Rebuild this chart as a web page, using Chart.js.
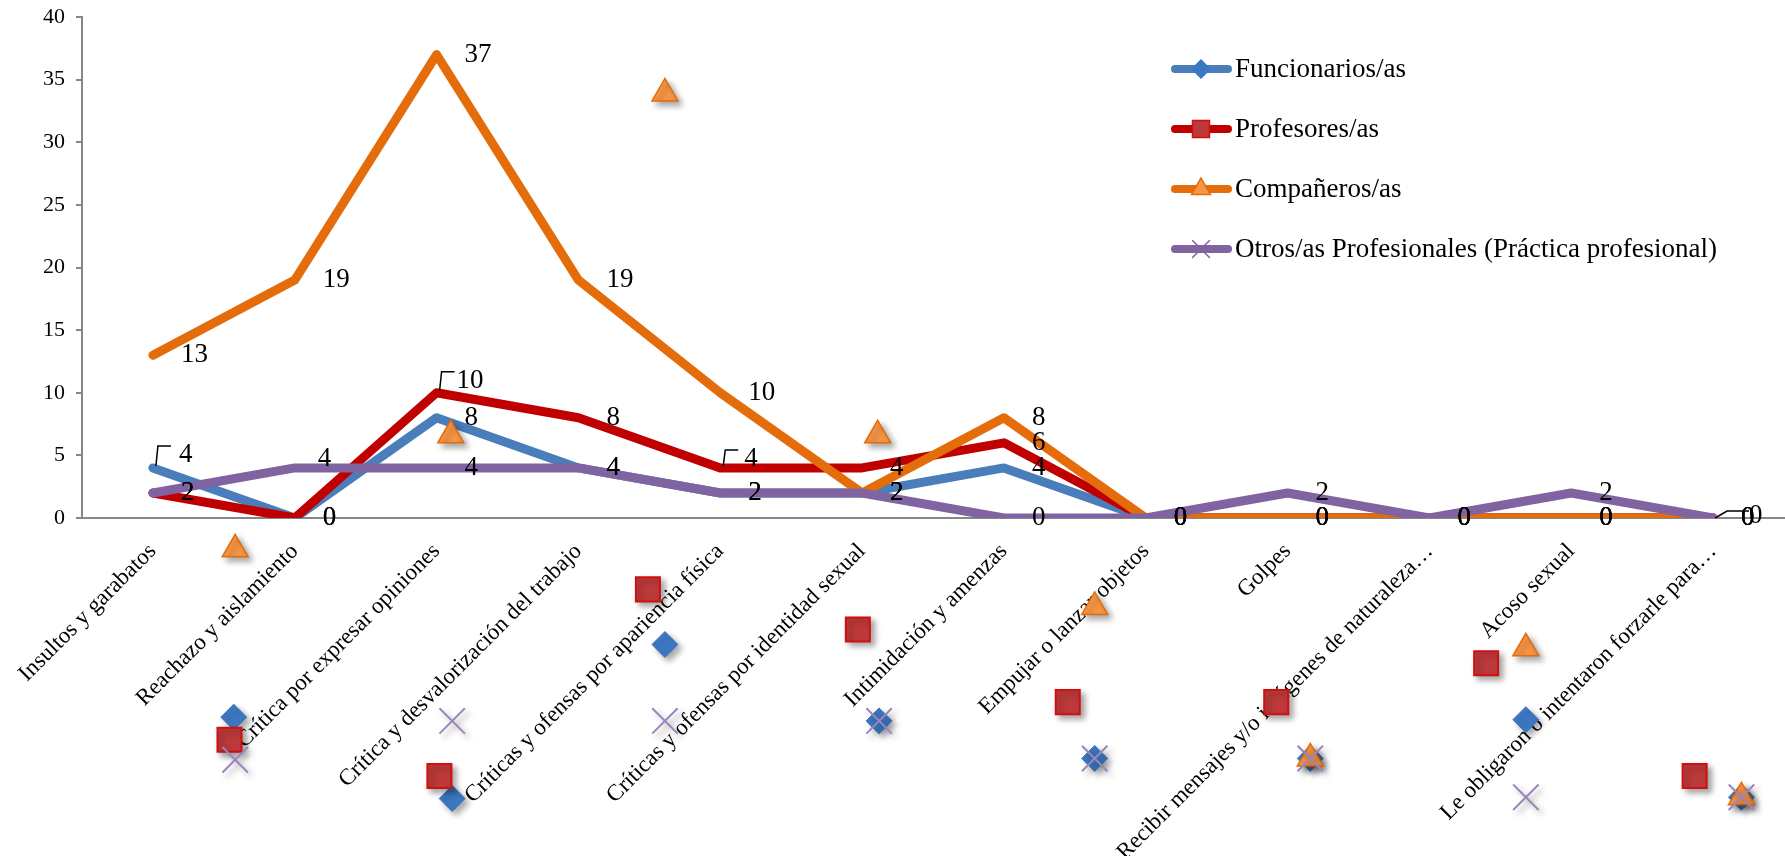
<!DOCTYPE html>
<html>
<head>
<meta charset="utf-8">
<script src="https://cdn.jsdelivr.net/npm/chart.js@4.4.0/dist/chart.umd.min.js"></script>
<style>
  html, body { margin: 0; padding: 0; background: #fff; }
  canvas { display: block; }
</style>
</head>
<body>
<canvas id="line-chart" width="1785" height="856"></canvas>
<script>
const serif = '"Liberation Serif", "Times New Roman", serif';

const categories = [
  "Insultos y garabatos",
  "Reachazo y aislamiento",
  "Crítica por expresar opiniones",
  "Crítica y desvalorización del trabajo",
  "Críticas y ofensas por apariencia física",
  "Críticas y ofensas por identidad sexual",
  "Intimidación y amenzas",
  "Empujar o lanzar objetos",
  "Golpes",
  "Recibir mensajes y/o imágenes de naturaleza…",
  "Acoso sexual",
  "Le obligaron o intentaron forzarle para…"
];

const seriesNames = [
  "Funcionarios/as",
  "Profesores/as",
  "Compañeros/as",
  "Otros/as Profesionales (Práctica profesional)"
];

const funcionarios = [4, 0, 8, 4, 2, 2, 4, 0, 0, 0, 0, 0];
const profesores   = [2, 0, 10, 8, 4, 4, 6, 0, 0, 0, 0, 0];
const companeros   = [13, 19, 37, 19, 10, 2, 8, 0, 0, 0, 0, 0];
const otros        = [2, 4, 4, 4, 2, 2, 0, 0, 2, 0, 2, 0];

// loose markers left over in the original picture (category index, value)
const strayIdxBlue   = [0.57, 2.11, 3.61, 5.12, 6.64, 8.16, 9.68, 11.2];
const strayValBlue   = [-15.9, -22.4, -10.1, -16.2, -19.2, -19.2, -16.1, -22.3];
const strayIdxRed    = [0.54, 2.02, 3.49, 4.97, 6.45, 7.92, 9.40, 10.87];
const strayValRed    = [-17.7, -20.6, -5.7, -8.9, -14.7, -14.7, -11.6, -20.6];
const strayIdxOrange = [0.58, 2.10, 3.61, 5.11, 6.64, 8.16, 9.68, 11.2];
const strayValOrange = [-2.5, 6.6, 33.9, 6.6, -7.1, -19.2, -10.4, -22.3];
const strayIdxPurple = [0.58, 2.11, 3.61, 5.12, 6.64, 8.16, 9.68, 11.2];
const strayValPurple = [-19.3, -16.2, -16.2, -16.2, -19.2, -19.2, -22.3, -22.3];

const colors = ['#4A7EBB', '#C00000', '#E46C0A', '#8064A2'];

function pts(xs, ys) {
  return xs.map((x, i) => ({ x: x, y: ys[i] }));
}

// labels moved by hand in the original ("dataset:index")
const labelNudges = {
  '0:0': { dx: -2, dy: -13, leader: 'corner' },
  '1:2': { dx: -8, dy: -12, leader: 'corner' },
  '1:4': { dx: -4, dy: -9, leader: 'corner' },
  '3:1': { dx: -5, dy: -9 },
  '3:11': { dx: 8, dy: -2, leader: 'straight' }
};

const valueLabels = {
  id: 'valueLabels',
  afterDatasetsDraw(chart) {
    const ctx = chart.ctx;
    ctx.save();
    ctx.font = '27px ' + serif;
    ctx.fillStyle = '#000';
    ctx.strokeStyle = '#000';
    ctx.lineWidth = 1.5;
    ctx.textAlign = 'left';
    ctx.textBaseline = 'middle';
    chart.data.datasets.forEach((ds, di) => {
      if (ds.type === 'scatter') return;
      chart.getDatasetMeta(di).data.forEach((pt, i) => {
        let x = pt.x + 28, y = pt.y;
        const n = labelNudges[di + ':' + i];
        if (n) {
          x += n.dx; y += n.dy;
          if (n.leader === 'corner') {
            ctx.beginPath();
            ctx.moveTo(pt.x + 3, pt.y - 2);
            ctx.lineTo(pt.x + 5, y - 9);
            ctx.lineTo(pt.x + 18, y - 9);
            ctx.stroke();
          } else if (n.leader === 'straight') {
            ctx.beginPath();
            ctx.moveTo(pt.x + 2, pt.y);
            ctx.lineTo(pt.x + 14, y - 5);
            ctx.lineTo(x, y - 5);
            ctx.stroke();
          }
        }
        ctx.fillText(String(ds.data[i]), x, y);
      });
    });
    ctx.restore();
  }
};

// the loose markers sit outside the plot area, so let them draw there
const looseMarkers = {
  id: 'looseMarkers',
  beforeDatasetDraw(chart, args) {
    if (chart.data.datasets[args.index].type !== 'scatter') return;
    const ctx = chart.ctx;
    ctx.save();
    ctx.shadowColor = 'rgba(0,0,0,0.35)';
    ctx.shadowBlur = 6;
    ctx.shadowOffsetX = 4;
    ctx.shadowOffsetY = 4;
    chart._realArea = chart.chartArea;
    chart.chartArea = { left: 0, top: 0, right: chart.width, bottom: chart.height,
                        width: chart.width, height: chart.height };
  },
  afterDatasetDraw(chart, args) {
    if (chart.data.datasets[args.index].type !== 'scatter') return;
    chart.chartArea = chart._realArea;
    chart.ctx.restore();
  }
};

const legendMarks = [
  { pointStyle: 'rectRot', radius: 9, fill: '#3C78C2', stroke: '#3C78C2' },
  { pointStyle: 'rect', radius: 12, fill: '#BE3A3A', stroke: '#D01010' },
  { pointStyle: 'triangle', radius: 11, fill: '#F79646', stroke: '#E46C0A' },
  { pointStyle: 'crossRot', radius: 12, fill: '#8064A2', stroke: '#8064A2' }
];

const insideLegend = {
  id: 'insideLegend',
  afterDraw(chart) {
    const ctx = chart.ctx;
    ctx.save();
    seriesNames.forEach((name, k) => {
      const y = 69 + k * 60;
      ctx.strokeStyle = colors[k];
      ctx.lineWidth = 8;
      ctx.lineCap = 'round';
      ctx.beginPath();
      ctx.moveTo(1175, y);
      ctx.lineTo(1228, y);
      ctx.stroke();
      const m = legendMarks[k];
      ctx.fillStyle = m.fill;
      ctx.strokeStyle = m.stroke;
      ctx.lineWidth = 1.5;
      Chart.helpers.drawPoint(ctx, { pointStyle: m.pointStyle, radius: m.radius, rotation: 0, borderWidth: 1.5 }, 1201, y);
      ctx.fillStyle = '#000';
      ctx.font = '27px ' + serif;
      ctx.textAlign = 'left';
      ctx.textBaseline = 'middle';
      ctx.fillText(name, 1235, y + 1);
    });
    ctx.restore();
  }
};

function lineSet(data, k, order) {
  return {
    label: seriesNames[k],
    data: data,
    borderColor: colors[k],
    borderWidth: 9,
    borderCapStyle: 'round',
    borderJoinStyle: 'round',
    pointRadius: 0,
    fill: false,
    tension: 0,
    order: order
  };
}

function straySet(points, style, radius, bg, border, bw, order) {
  return {
    type: 'scatter',
    data: points,
    xAxisID: 'xm',
    yAxisID: 'y',
    pointStyle: style,
    pointRadius: radius,
    pointBackgroundColor: bg,
    pointBorderColor: border,
    pointBorderWidth: bw,
    clip: false,
    order: order
  };
}

new Chart(document.getElementById('line-chart'), {
  type: 'line',
  data: {
    labels: categories,
    datasets: [
      lineSet(funcionarios, 0, 8),
      lineSet(profesores, 1, 7),
      lineSet(companeros, 2, 6),
      lineSet(otros, 3, 5),
      straySet(pts(strayIdxBlue, strayValBlue), 'rectRot', 13, '#3C78C2', '#3C78C2', 1, 4),
      straySet(pts(strayIdxRed, strayValRed), 'rect', 17, '#BE3A3A', '#D01010', 2, 3),
      straySet(pts(strayIdxOrange, strayValOrange), 'triangle', 15, '#F79646', '#E46C0A', 1.5, 2),
      straySet(pts(strayIdxPurple, strayValPurple), 'crossRot', 18, '#9A85BE', '#9A85BE', 2, 1)
    ]
  },
  options: {
    responsive: false,
    animation: false,
    events: [],
    layout: { autoPadding: false, padding: { top: 17, right: 1, bottom: 0, left: 0 } },
    plugins: {
      legend: { display: false },
      tooltip: { enabled: false },
      title: { display: false }
    },
    scales: {
      x: {
        type: 'category',
        offset: true,
        grid: { display: false, drawTicks: false },
        border: { display: true, color: '#868686', width: 2 },
        ticks: {
          autoSkip: false,
          minRotation: 45,
          maxRotation: 45,
          padding: 20,
          color: '#000',
          font: { family: serif, size: 23 }
        },
        afterFit: (scale) => {
          scale.height = 338;
          scale.paddingLeft = 0;
          scale.paddingRight = 0;
        }
      },
      xm: {
        type: 'linear',
        display: false,
        min: -0.5,
        max: 11.5
      },
      y: {
        min: 0,
        max: 40,
        ticks: {
          stepSize: 5,
          padding: 11,
          color: '#000',
          font: { family: serif, size: 22 }
        },
        grid: {
          display: true,
          drawOnChartArea: false,
          drawTicks: true,
          tickLength: 6,
          color: '#868686',
          lineWidth: 2
        },
        border: { display: true, color: '#868686', width: 2 },
        afterFit: (scale) => {
          scale.width = 82;
          scale.paddingTop = 0;
          scale.paddingBottom = 0;
        }
      }
    }
  },
  plugins: [looseMarkers, valueLabels, insideLegend]
});
</script>
</body>
</html>
